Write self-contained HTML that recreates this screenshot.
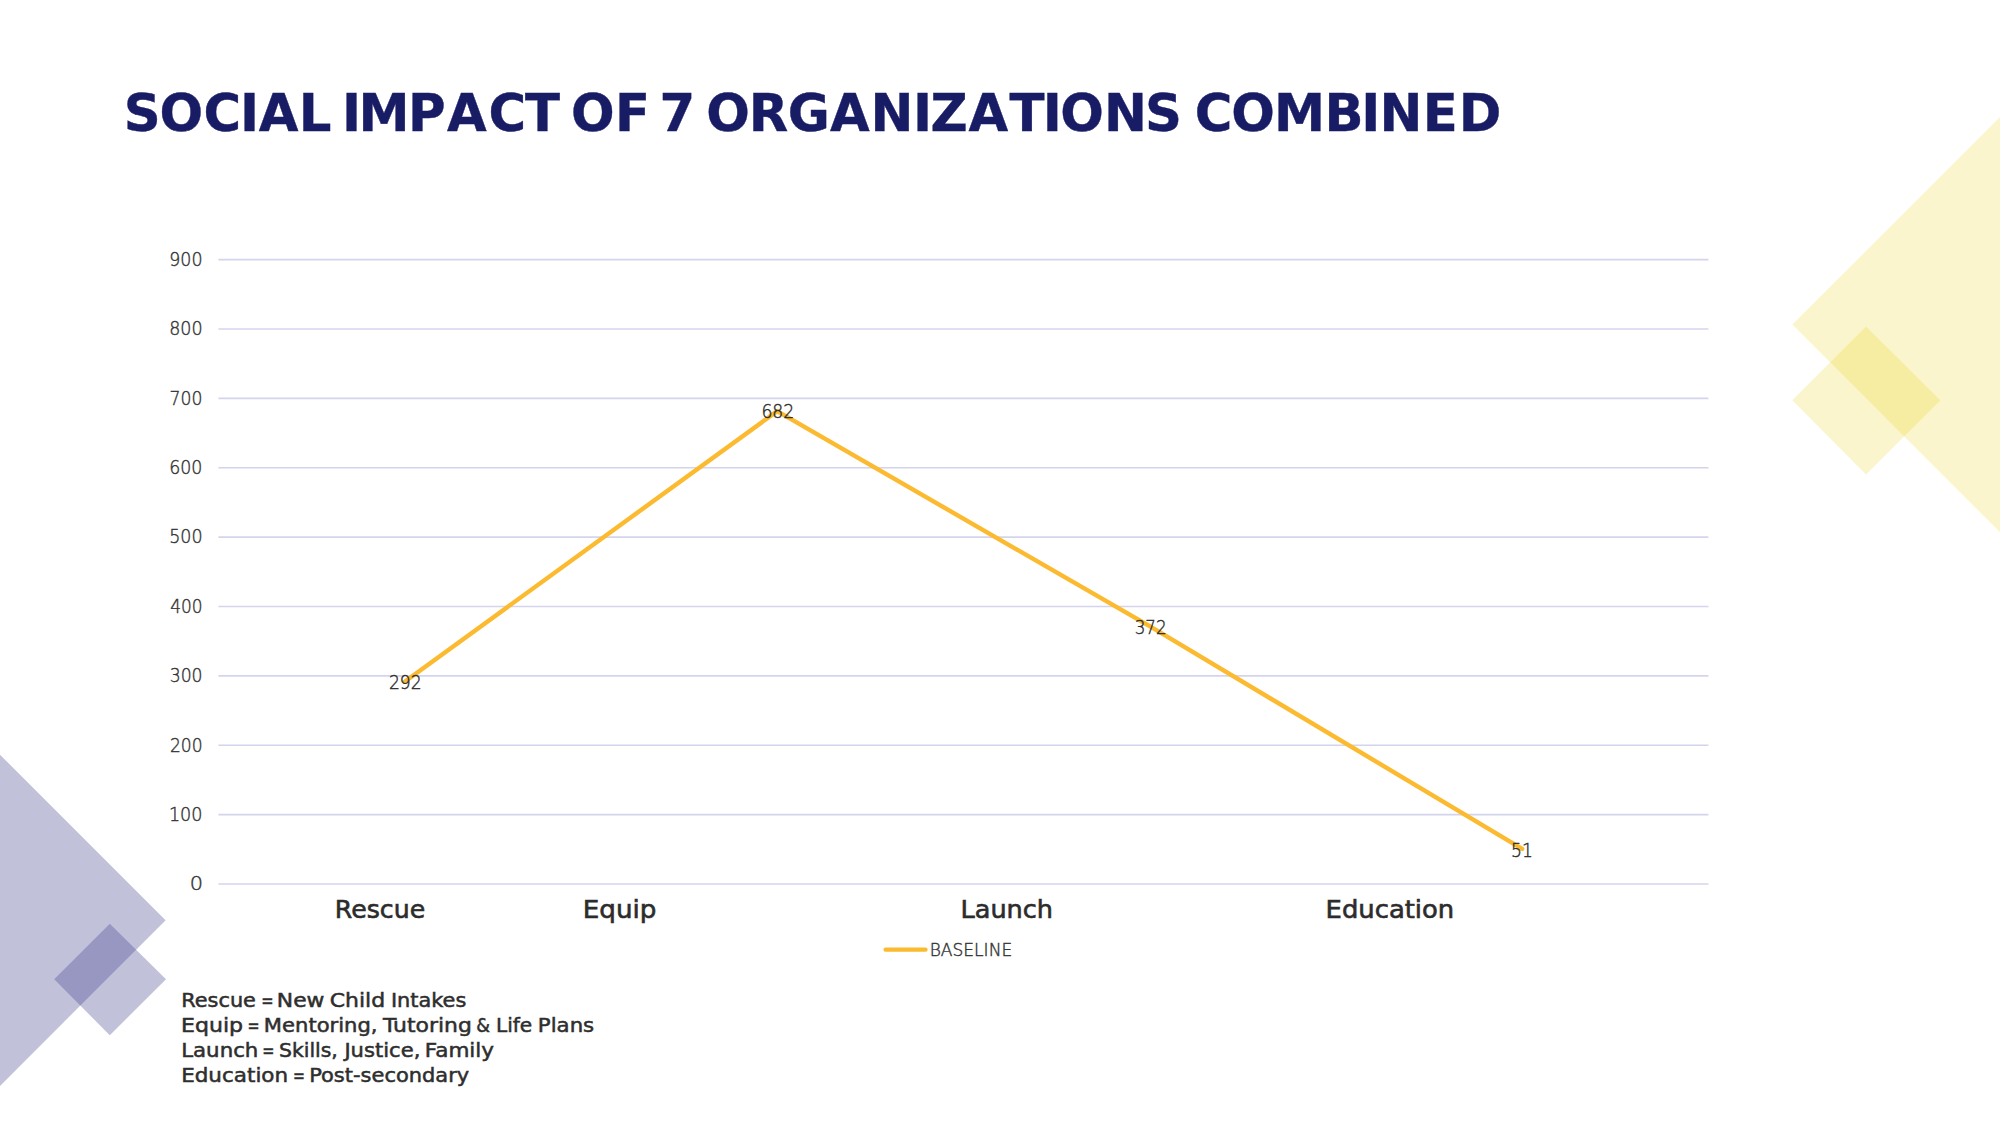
<!DOCTYPE html>
<html lang="en">
<head>
<meta charset="utf-8">
<title>Social Impact of 7 Organizations Combined</title>
<style>
html,body{margin:0;padding:0;background:#fff;}
body{width:2001px;height:1125px;overflow:hidden;position:relative;font-family:"Liberation Sans",sans-serif;}
svg{position:absolute;left:0;top:0;display:block;}
.title{font-family:"DejaVu Sans","Liberation Sans",sans-serif;font-weight:700;font-size:51.3px;fill:#181c64;stroke:#181c64;stroke-width:.4px;}
.ax{font-family:"DejaVu Sans Light","DejaVu Sans","Liberation Sans",sans-serif;font-weight:200;font-size:19.6px;fill:#363636;stroke:#363636;stroke-width:.45px;}
.dl{font-family:"DejaVu Sans Light","DejaVu Sans","Liberation Sans",sans-serif;font-weight:200;font-size:18.8px;fill:#2e2e2e;stroke:#2e2e2e;stroke-width:.45px;}
.cat{font-family:"DejaVu Sans","Liberation Sans",sans-serif;font-size:24.3px;fill:#2c2c2c;stroke:#2c2c2c;stroke-width:.6px;}
.leg{font-family:"DejaVu Sans Light","DejaVu Sans","Liberation Sans",sans-serif;font-weight:200;font-size:17.8px;fill:#363636;stroke:#363636;stroke-width:.45px;}
.note{font-family:"DejaVu Sans","Liberation Sans",sans-serif;font-size:19px;fill:#2e2e2e;stroke:#2e2e2e;stroke-width:.5px;}
</style>
</head>
<body>
<svg width="2001" height="1125" viewBox="0 0 2001 1125">
<rect width="2001" height="1125" fill="#ffffff"/>
<g id="shapes">
<polygon points="1792.4,324.6 2000,117 2000,532.2" fill="#e4cb00" fill-opacity="0.2"/>
<polygon points="1792.3,400.3 1866,326.5 1940.3,400.3 1866,474.6" fill="#e4cb00" fill-opacity="0.2"/>
<polygon points="165.6,920.3 -10,744.7 -10,1095.9" fill="#424390" fill-opacity="0.33"/>
<polygon points="54.2,979.3 109.8,923.7 166,979.3 109.8,1035.2" fill="#424390" fill-opacity="0.33"/>
</g>
<g id="grid" stroke="#d4d4ec" stroke-width="1.6">
<line x1="218.4" y1="884.00" x2="1708.4" y2="884.00"/>
<line x1="218.4" y1="814.62" x2="1708.4" y2="814.62"/>
<line x1="218.4" y1="745.24" x2="1708.4" y2="745.24"/>
<line x1="218.4" y1="675.86" x2="1708.4" y2="675.86"/>
<line x1="218.4" y1="606.48" x2="1708.4" y2="606.48"/>
<line x1="218.4" y1="537.10" x2="1708.4" y2="537.10"/>
<line x1="218.4" y1="467.72" x2="1708.4" y2="467.72"/>
<line x1="218.4" y1="398.34" x2="1708.4" y2="398.34"/>
<line x1="218.4" y1="328.96" x2="1708.4" y2="328.96"/>
<line x1="218.4" y1="259.58" x2="1708.4" y2="259.58"/>
</g>
<text class="ax" y="890.30"><tspan x="189.66" textLength="13.28" lengthAdjust="spacingAndGlyphs">0</tspan></text>
<text class="ax" y="820.92"><tspan x="168.88" textLength="33.62" lengthAdjust="spacingAndGlyphs">100</tspan></text>
<text class="ax" y="751.54"><tspan x="169.93" textLength="32.62" lengthAdjust="spacingAndGlyphs">200</tspan></text>
<text class="ax" y="682.16"><tspan x="169.68" textLength="32.88" lengthAdjust="spacingAndGlyphs">300</tspan></text>
<text class="ax" y="612.78"><tspan x="170.15" textLength="32.36" lengthAdjust="spacingAndGlyphs">400</tspan></text>
<text class="ax" y="543.40"><tspan x="169.16" textLength="33.39" lengthAdjust="spacingAndGlyphs">500</tspan></text>
<text class="ax" y="474.02"><tspan x="169.20" textLength="33.24" lengthAdjust="spacingAndGlyphs">600</tspan></text>
<text class="ax" y="404.64"><tspan x="169.59" textLength="32.87" lengthAdjust="spacingAndGlyphs">700</tspan></text>
<text class="ax" y="335.26"><tspan x="169.22" textLength="33.42" lengthAdjust="spacingAndGlyphs">800</tspan></text>
<text class="ax" y="265.88"><tspan x="169.23" textLength="33.28" lengthAdjust="spacingAndGlyphs">900</tspan></text>
<polyline points="404.65,681.71 777.15,411.13 1149.65,626.21 1522.15,848.92" fill="none" stroke="#fbba2f" stroke-width="4.4" stroke-linejoin="round" stroke-linecap="round"/>
<text class="dl" y="689.20"><tspan x="388.89" textLength="32.73" lengthAdjust="spacingAndGlyphs">292</tspan></text>
<text class="dl" y="418.00"><tspan x="761.41" textLength="32.91" lengthAdjust="spacingAndGlyphs">682</tspan></text>
<text class="dl" y="633.90"><tspan x="1134.63" textLength="31.91" lengthAdjust="spacingAndGlyphs">372</tspan></text>
<text class="dl" y="857.00"><tspan x="1511.10" textLength="21.92" lengthAdjust="spacingAndGlyphs">51</tspan></text>
<text class="cat" y="917.90"><tspan x="334.87" textLength="90.34" lengthAdjust="spacingAndGlyphs">Rescue</tspan></text>
<text class="cat" y="917.90"><tspan x="582.70" textLength="73.73" lengthAdjust="spacingAndGlyphs">Equip</tspan></text>
<text class="cat" y="917.90"><tspan x="960.52" textLength="92.54" lengthAdjust="spacingAndGlyphs">Launch</tspan></text>
<text class="cat" y="917.90"><tspan x="1325.59" textLength="128.63" lengthAdjust="spacingAndGlyphs">Education</tspan></text>
<line x1="885.6" y1="949.65" x2="925.5" y2="949.65" stroke="#fbba2f" stroke-width="4.3" stroke-linecap="round"/>
<text class="leg" y="955.70"><tspan x="929.70" textLength="82.49" lengthAdjust="spacingAndGlyphs">BASELINE</tspan></text>
<text class="title" y="130.6" x="123.7 159.6 203.4 240.1 258.8 298.8 331.5 342.1 358.5 408.1 447.1 488.6 525.1 560.1 571.0 615.1 650.2 659.6 695.3 706.2 748.8 787.7 829.9 870.5 913.0 930.6 968.6 1009.4 1042.7 1060.3 1103.9 1145.1 1182.1 1194.7 1231.3 1274.0 1324.4 1361.2 1379.4 1422.8 1458.7">SOCIAL IMPACT OF 7 ORGANIZATIONS COMBINED</text>
<text class="note" y="1006.90"><tspan x="181.24" textLength="74.70" lengthAdjust="spacingAndGlyphs">Rescue</tspan> <tspan x="261.27" textLength="12.31" lengthAdjust="spacingAndGlyphs">=</tspan> <tspan x="276.81" textLength="47.64" lengthAdjust="spacingAndGlyphs">New</tspan> <tspan x="329.71" textLength="55.44" lengthAdjust="spacingAndGlyphs">Child</tspan> <tspan x="390.92" textLength="75.40" lengthAdjust="spacingAndGlyphs">Intakes</tspan></text>
<text class="note" y="1031.90"><tspan x="181.05" textLength="62.06" lengthAdjust="spacingAndGlyphs">Equip</tspan> <tspan x="247.49" textLength="12.04" lengthAdjust="spacingAndGlyphs">=</tspan> <tspan x="263.88" textLength="113.70" lengthAdjust="spacingAndGlyphs">Mentoring,</tspan> <tspan x="382.98" textLength="88.86" lengthAdjust="spacingAndGlyphs">Tutoring</tspan> <tspan x="476.25" textLength="13.76" lengthAdjust="spacingAndGlyphs">&amp;</tspan> <tspan x="495.91" textLength="36.33" lengthAdjust="spacingAndGlyphs">Life</tspan> <tspan x="537.87" textLength="56.34" lengthAdjust="spacingAndGlyphs">Plans</tspan></text>
<text class="note" y="1056.90"><tspan x="181.18" textLength="77.22" lengthAdjust="spacingAndGlyphs">Launch</tspan> <tspan x="262.24" textLength="12.18" lengthAdjust="spacingAndGlyphs">=</tspan> <tspan x="278.95" textLength="58.91" lengthAdjust="spacingAndGlyphs">Skills,</tspan> <tspan x="344.41" textLength="75.93" lengthAdjust="spacingAndGlyphs">Justice,</tspan> <tspan x="424.81" textLength="69.27" lengthAdjust="spacingAndGlyphs">Family</tspan></text>
<text class="note" y="1081.90"><tspan x="181.15" textLength="106.98" lengthAdjust="spacingAndGlyphs">Education</tspan> <tspan x="293.00" textLength="11.94" lengthAdjust="spacingAndGlyphs">=</tspan> <tspan x="309.15" textLength="160.09" lengthAdjust="spacingAndGlyphs">Post-secondary</tspan></text>
</svg>
</body>
</html>
